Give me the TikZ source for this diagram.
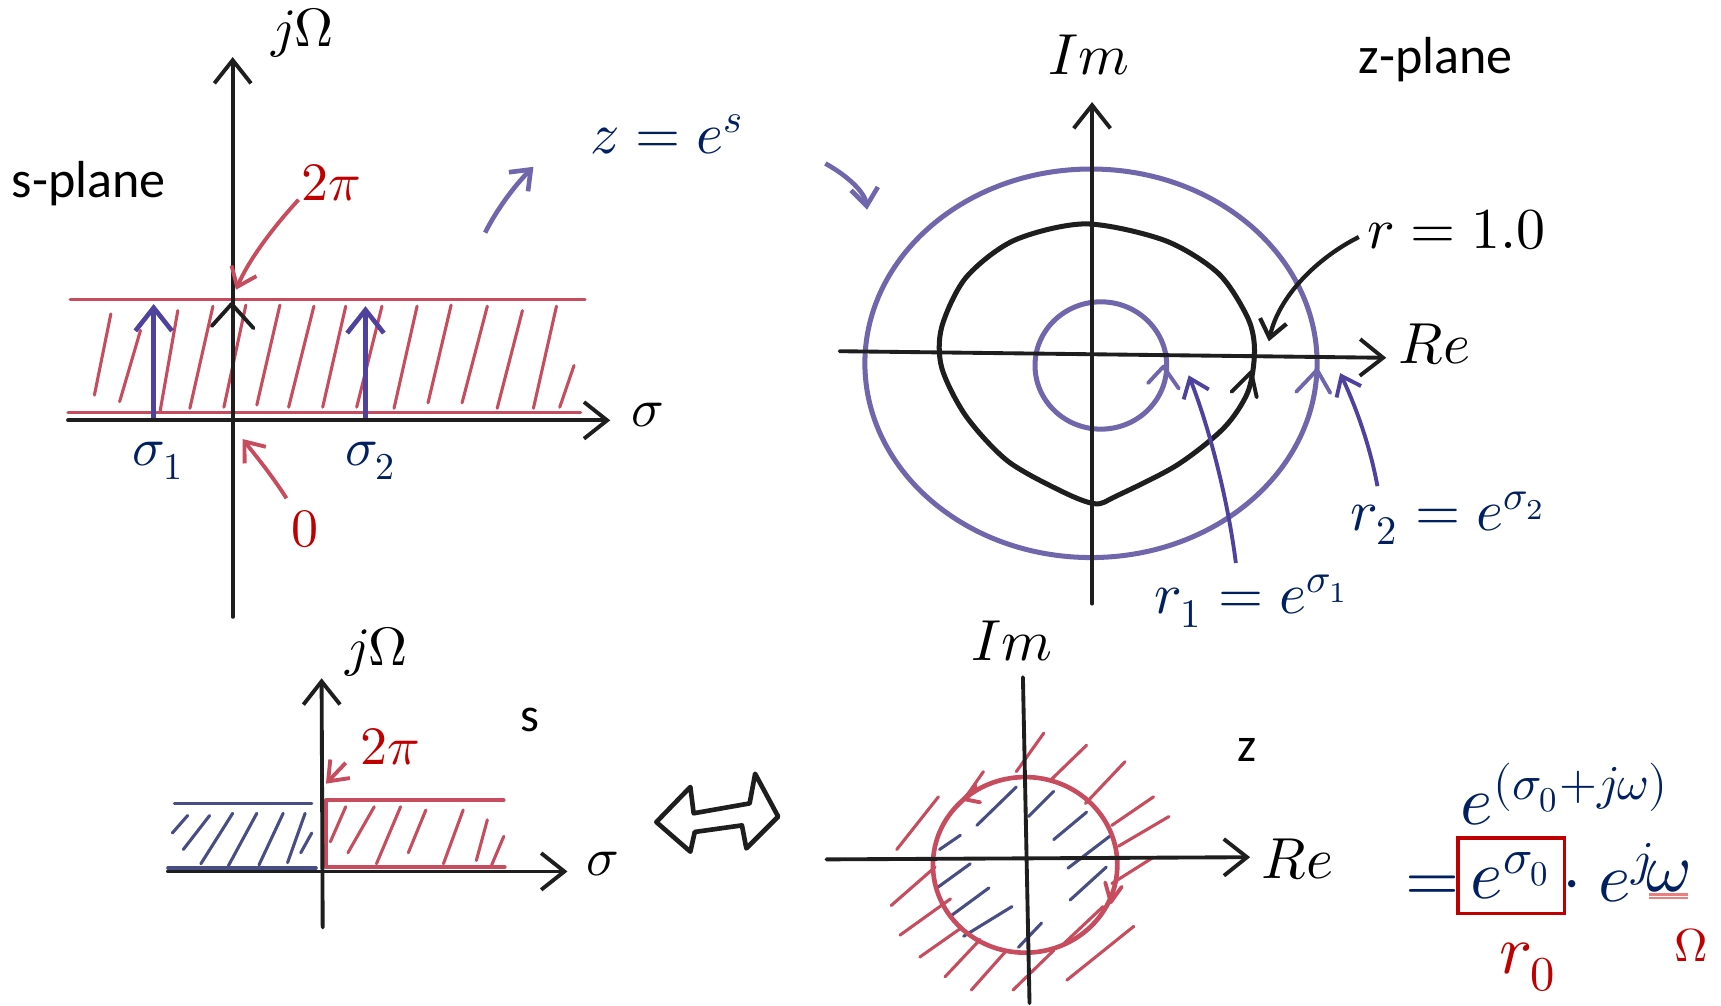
\documentclass[tikz,border=0pt]{standalone}
\usepackage{fontspec}
\usepackage{unicode-math}
\setmathfont{Latin Modern Math}
\newfontfamily\calib{Carlito}
\usetikzlibrary{arrows.meta}
\definecolor{navy}{RGB}{0,32,96}
\definecolor{tred}{RGB}{192,0,0}
\definecolor{hred}{RGB}{198,76,94}
\definecolor{hblue}{RGB}{112,102,172}
\definecolor{sblue}{RGB}{78,66,158}
\definecolor{dblue}{RGB}{72,78,132}
\definecolor{hblack}{RGB}{30,30,30}
\definecolor{ured}{RGB}{232,128,128}
\tikzset{
  vax/.style={-{Straight Barb[length=6pt,width=9.5pt]}},
  sax/.style={-{Straight Barb[length=4.5pt,width=7pt]}},
  axisline/.style={draw=hblack,line width=1pt,line cap=round,line join=round},
  redline/.style={draw=hred,line width=0.9pt,line cap=round},
  redhatch/.style={draw=hred,line width=0.8pt,line cap=round},
  bluehatch/.style={draw=dblue,line width=0.8pt,line cap=round},
  vee/.style={line width=1pt,line cap=round,line join=round},
  mlbl/.style={inner sep=0pt,font=\fontsize{14}{16}\selectfont},
  flbl/.style={inner sep=0pt,font=\fontsize{18}{20}\selectfont,text=navy},
  clbl/.style={inner sep=0pt,font=\calib\fontsize{13.5}{16}\selectfont},
}
\begin{document}
\begin{tikzpicture}[x=0.01cm,y=-0.01cm]
\fill[white] (0,0) rectangle (1568,916);
\useasboundingbox (0,0) rectangle (1568,916);

% ================= top-left s-plane =================
\coordinate (a1b) at (212,562); \coordinate (a1t) at (212,52);
\coordinate (s1l) at (62,383);  \coordinate (s1r) at (556,383);
\draw[redline] (64,273) -- (533,273);
\draw[redline] (62,376) -- (529,376);
\foreach \xa/\ya/\xb/\yb in {86/360/101/286, 109/366/128/301, 146/374/162/283,
  173/372/194/279, 204/371/224/278, 234/369/255/278, 263/371/286/279,
  294/371/315/279, 325/371/348/279, 359/372/380/279, 390/367/411/278,
  421/367/444/279, 453/372/476/283, 486/372/507/279, 510/371/523/333}
  \draw[redhatch] (\xa,\ya) -- (\xb,\yb);
\draw[axisline,vax] (a1b) -- (a1t);
\draw[axisline,vax] (s1l) -- (s1r);
\draw[axisline] (193,297) -- (211,277) -- (231,299);
\coordinate (s1b) at (140,381); \coordinate (s1t) at (140,277);
\coordinate (s2b) at (333,381); \coordinate (s2t) at (333,279);
\draw[sblue,line width=1.2pt,vax] (s1b) -- (s1t);
\draw[sblue,line width=1.2pt,vax] (s2b) -- (s2t);

\node[mlbl] (jw1) at (276,30) {$j\Omega$};
\node[clbl] (splane) at (81,167) {s-plane};
\node[mlbl,text=tred] (twopi1) at (302,167) {$2\pi$};
\node[mlbl] (sig1) at (590,378) {$\sigma$};
\node[mlbl,text=navy] (sg1) at (144,420) {$\sigma_1$};
\node[mlbl,text=navy] (sg2) at (338,420) {$\sigma_2$};
\node[mlbl,text=tred] (zero) at (278,482) {$0$};
\node[mlbl,text=navy,font=\fontsize{15}{17}\selectfont] (map) at (608,122) {$z=e^{s}$};

\coordinate (tp1s) at (272,182); \coordinate (tp1e) at (215,264);
\draw[hred,line width=1pt,sax] (tp1s) .. controls (248,208) and (226,238) .. (tp1e);
\coordinate (z0s) at (261,454); \coordinate (z0e) at (221,400);
\draw[hred,line width=1pt,sax] (z0s) .. controls (247,432) and (232,414) .. (z0e);
\coordinate (m1s) at (442,212); \coordinate (m1e) at (486,152);
\draw[hblue,line width=1.2pt,sax] (m1s) .. controls (452,192) and (468,170) .. (m1e);
\coordinate (m2s) at (752,149); \coordinate (m2e) at (790,191);
\draw[hblue,line width=1.2pt,sax] (m2s) .. controls (772,160) and (788,175) .. (m2e);

% ================= top-right z-plane =================
\draw[hblue,line width=1.3pt] (994,331) ellipse [x radius=206, y radius=177];
\draw[hblue,line width=1.3pt] (1003,333) ellipse [x radius=60, y radius=58];
\draw[hblack,line width=1.3pt] plot[smooth cycle] coordinates {(989,204) (1061,219)
  (1110,249) (1137,290) (1143,320) (1137,357) (1115,390) (1072,424) (1017,452)
  (998,459) (968,448) (918,420) (880,379) (858,335) (858,298) (880,253) (924,219)};
\coordinate (a2b) at (995,550); \coordinate (a2t) at (995,93);
\coordinate (r2l) at (765,320); \coordinate (r2r) at (1263,326);
\draw[axisline,vax] (a2b) -- (a2t);
\draw[axisline,vax] (r2l) -- (r2r);
\draw[vee,hblue] (1046,349) -- (1060,334) -- (1074,354);
\draw[vee,hblack] (1122,357) -- (1140,339) -- (1145,362);
\draw[vee,hblue] (1181,357) -- (1200,337) -- (1212,358);

\node[mlbl,font=\fontsize{15}{17}\selectfont] (im1) at (992,50) {$Im$};
\node[clbl] (zplane) at (1308,54) {z-plane};
\node[mlbl,font=\fontsize{15}{17}\selectfont] (rone) at (1327,209) {$r=1.0$};
\node[mlbl,font=\fontsize{15}{17}\selectfont] (re1) at (1307,314) {$Re$};
\node[mlbl,text=navy,font=\fontsize{15}{17}\selectfont] (r1l) at (1141,548) {$r_1=e^{\sigma_1}$};
\node[mlbl,text=navy,font=\fontsize{15}{17}\selectfont] (r2lbl) at (1320,472) {$r_2=e^{\sigma_2}$};

\coordinate (ros) at (1238,216); \coordinate (roe) at (1156,311);
\draw[hblack,line width=1.1pt,sax] (ros) .. controls (1200,235) and (1165,270) .. (roe);
\coordinate (r1s) at (1126,513); \coordinate (r1e) at (1083,342);
\draw[sblue,line width=1pt,sax] (r1s) .. controls (1118,450) and (1100,385) .. (r1e);
\coordinate (r2s) at (1255,443); \coordinate (r2e) at (1221,340);
\draw[sblue,line width=1pt,sax] (r2s) .. controls (1248,405) and (1235,370) .. (r2e);

% ================= bottom-left s =================
\draw[draw=dblue,line width=0.9pt,line cap=round] (159,732) -- (284,732);
\draw[draw=dblue,line width=0.9pt,line cap=round] (153,791) -- (288,791);
\foreach \xa/\ya/\xb/\yb in {157/759/171/743, 167/774/191/743, 183/787/212/741,
  208/789/234/741, 236/788/258/741, 262/786/278/741, 274/777/284/759}
  \draw[bluehatch] (\xa,\ya) -- (\xb,\yb);
\draw[redline] (297,729) -- (459,729);
\draw[redline] (297,729) -- (297,790);
\draw[redline] (297,790) -- (460,790);
\foreach \xa/\ya/\xb/\yb in {301/767/315/735, 317/777/341/735, 343/787/365/735,
  372/777/388/738, 404/787/422/738, 434/784/444/747, 448/788/459/762}
  \draw[redhatch] (\xa,\ya) -- (\xb,\yb);
\coordinate (a3b) at (294,845); \coordinate (a3t) at (293,618);
\coordinate (s3l) at (153,794); \coordinate (s3r) at (517,794);
\draw[axisline,vax] (a3b) -- (a3t);
\draw[axisline,vax] (s3l) -- (s3r);
\coordinate (tp2s) at (315,695); \coordinate (tp2e) at (297,714);
\draw[hred,line width=1pt,sax] (tp2s) -- (tp2e);

\node[mlbl] (jw2) at (343,594) {$j\Omega$};
\node[mlbl,text=tred] (twopi2) at (355,680) {$2\pi$};
\node[clbl,font=\calib\fontsize{12.5}{15}\selectfont] (slbl) at (483,656) {s};
\node[mlbl] (sig2) at (549,787) {$\sigma$};

% double arrow
\draw[hblack,line width=1.2pt,line join=round] (598,749) -- (629,717) -- (632,741)
  -- (683,732) -- (688,705) -- (709,744) -- (680,773) -- (676,752) -- (633,758)
  -- (629,776) -- cycle;

% ================= bottom-middle z =================
\foreach \xa/\ya/\xb/\yb in {926/703/951/668, 957/711/990/679, 989/732/1025/694,
  1013/752/1051/726, 1019/771/1065/744, 878/729/896/703, 817/774/855/726,
  812/825/852/790, 820/852/866/819, 838/872/875/846, 861/890/893/856,
  885/902/917/866, 923/902/960/866, 972/893/1033/844, 969/860/1005/826,
  1013/805/1051/781}
  \draw[redhatch] (\xa,\ya) -- (\xb,\yb);
\foreach \xa/\ya/\xb/\yb in {890/752/926/717, 937/744/960/721, 960/765/990/740,
  973/791/1011/762, 975/820/1008/790, 856/774/875/761, 855/808/884/787,
  867/834/901/809, 878/853/922/826, 928/863/949/841}
  \draw[bluehatch] (\xa,\ya) -- (\xb,\yb);
\draw[hred,line width=1.2pt] (934,788) ellipse [x radius=84, y radius=80];
\draw[vee,hred] (889,716) -- (878,728) -- (893,731);
\draw[vee,hred] (1007,804) -- (1012,822) -- (1022,808);
\coordinate (a4b) at (938,914); \coordinate (a4t) at (932,617);
\coordinate (r4l) at (753,783); \coordinate (r4r) at (1139,781);
\draw[axisline] (a4b) -- (a4t);
\draw[axisline,vax] (r4l) -- (r4r);

\node[mlbl,font=\fontsize{15}{17}\selectfont] (im2) at (922,584) {$Im$};
\node[mlbl,font=\fontsize{15}{17}\selectfont] (re2) at (1182,783) {$Re$};
\node[clbl,font=\calib\fontsize{12.5}{15}\selectfont] (zlbl) at (1136,683) {z};

% ================= formula =================
\node[flbl,anchor=base] (efull) at (1426,751) {$e^{(\sigma_0+j\omega)}$};
\node[flbl,anchor=base] (eqs) at (1305,821) {$=$};
\node[flbl,draw=tred,line width=1pt,minimum width=27.5pt,minimum height=19.5pt] (boxe) at (1377,798) {$e^{\sigma_0}$};
\node[flbl,anchor=base] (cdt) at (1432,821) {$\cdot$};
\node[flbl,anchor=base west] (ej) at (1456,821) {$e^{j}$};
\node[flbl,anchor=base] (om) at (1520,812) {$\omega$};
\draw[ured,line width=0.6pt] (1502,815) -- (1538,815);
\draw[ured,line width=0.6pt] (1502,818) -- (1538,818);
\node[flbl,text=tred,anchor=base] (rzero) at (1392,887) {$r_0$};
\node[flbl,text=tred,anchor=base,font=\fontsize{12}{14}\selectfont] (bigom) at (1541,876) {$\Omega$};
\end{tikzpicture}
\end{document}
